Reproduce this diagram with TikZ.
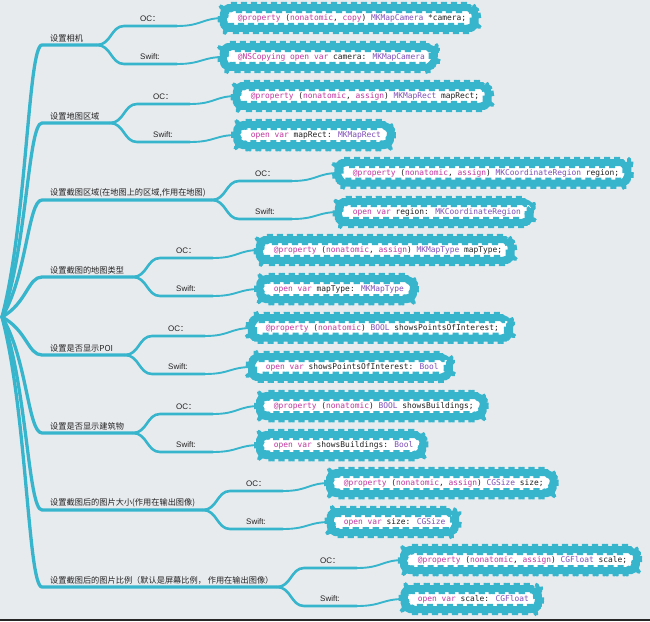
\documentclass[tikz,border=0pt]{standalone}
\usepackage{fontspec}
\setmainfont{Liberation Sans}
\newfontfamily\cjk{Noto Sans CJK SC}
\newfontfamily\code{DejaVu Sans Mono}
\usetikzlibrary{decorations.pathmorphing}
\definecolor{bgc}{HTML}{E8EBEE}
\definecolor{teal1}{HTML}{36B5CD}
\definecolor{kwc}{HTML}{C2359F}
\definecolor{tyc}{HTML}{7E4DB8}
\definecolor{txc}{HTML}{222222}
\newcommand\kw[1]{\textcolor{kwc}{#1}}
\newcommand\ty[1]{\textcolor{tyc}{#1}}
\tikzset{
  mainline/.style={draw=teal1, line width=3.3pt, line cap=round, line join=round},
  subline/.style={draw=teal1, line width=2.6pt, line cap=round},
  endline/.style={draw=teal1, line width=1.9pt, line cap=round},
  topic/.style={anchor=west, inner sep=0pt, font=\cjk\fontsize{8.2}{9}\selectfont, text=txc},
  lbl/.style={anchor=west, inner sep=0pt, font=\fontsize{8}{9}\selectfont, text=txc},
  codebox/.style={anchor=west, draw=teal1, fill=white, line width=3.8pt, line join=round,
    inner xsep=12pt, inner ysep=3pt, minimum height=21pt, rounded corners=6pt,
    decorate, decoration={snake, segment length=10pt, amplitude=1.6pt},
    font=\code\fontsize{7.9}{9}\selectfont, text=txc}
}
\begin{document}
\begin{tikzpicture}[x=1pt, y=-1pt]
\useasboundingbox (0,0) rectangle (650,621);
\fill[bgc] (0,0) rectangle (650,621);
\fill[black!85] (0,618.5) rectangle (650,621);
\coordinate (root) at (2,317);
\foreach \i/\T/\S/\txt/\oc/\sw in {
 1/45/97/{设置相机}/{\kw{@property} (\kw{nonatomic}, \kw{copy}) \ty{MKMapCamera} *camera;}/{\kw{@NSCopying} \kw{open} \kw{var} camera: \ty{MKMapCamera}},
 2/123/110/{设置地图区域}/{\kw{@property} (\kw{nonatomic}, \kw{assign}) \ty{MKMapRect} mapRect;}/{\kw{open} \kw{var} mapRect: \ty{MKMapRect}},
 3/200/212/{设置截图区域(在地图上的区域,作用在地图)}/{\kw{@property} (\kw{nonatomic}, \kw{assign}) \ty{MKCoordinateRegion} region;}/{\kw{open} \kw{var} region: \ty{MKCoordinateRegion}},
 4/277/133/{设置截图的地图类型}/{\kw{@property} (\kw{nonatomic}, \kw{assign}) \ty{MKMapType} mapType;}/{\kw{open} \kw{var} mapType: \ty{MKMapType}},
 5/355/125/{设置是否显示POI}/{\kw{@property} (\kw{nonatomic}) \ty{BOOL} showsPointsOfInterest;}/{\kw{open} \kw{var} showsPointsOfInterest: \ty{Bool}},
 6/433/133/{设置是否显示建筑物}/{\kw{@property} (\kw{nonatomic}) \ty{BOOL} showsBuildings;}/{\kw{open} \kw{var} showsBuildings: \ty{Bool}},
 7/510/203/{设置截图后的图片大小(作用在输出图像)}/{\kw{@property} (\kw{nonatomic}, \kw{assign}) \ty{CGSize} size;}/{\kw{open} \kw{var} size: \ty{CGSize}},
 8/587/277/{设置截图后的图片比例（默认是屏幕比例， 作用在输出图像）}/{\kw{@property} (\kw{nonatomic}, \kw{assign}) \ty{CGFloat} scale;}/{\kw{open} \kw{var} scale: \ty{CGFloat}}
}{
  \pgfmathsetmacro\P{317+0.35*(\T-317)}
  \coordinate (ts\i) at (42,\T);
  \coordinate (sp\i) at (\S,\T);
  \coordinate (oa\i) at (\S+27,\T-19);
  \coordinate (ob\i) at (\S+80,\T-19);
  \coordinate (sa\i) at (\S+27,\T+19);
  \coordinate (sb\i) at (\S+80,\T+19);
  \node[topic] (t\i) at (50,\T-7) {\txt};
  \node[lbl] (lo\i) at (\S+43,\T-26) {OC\cjk：};
  \node[lbl] (ls\i) at (\S+43,\T+12) {Swift:};
  \draw[mainline] (root) .. controls (27,\P) and (28,\T) .. (ts\i) -- (sp\i);
  \draw[subline] (sp\i) .. controls +(14,0) and +(-13,0) .. (oa\i) -- (ob\i);
  \draw[subline] (sp\i) .. controls +(14,0) and +(-13,0) .. (sa\i) -- (sb\i);
  \node[codebox] (bo\i) at (\S+127,\T-27) {\oc};
  \node[codebox] (bs\i) at (\S+127,\T+12) {\sw};
  \draw[endline] (ob\i) .. controls +(25,0) and +(-22,0) .. (bo\i.west);
  \draw[endline] (sb\i) .. controls +(25,0) and +(-22,0) .. (bs\i.west);
}
\end{tikzpicture}
\end{document}
